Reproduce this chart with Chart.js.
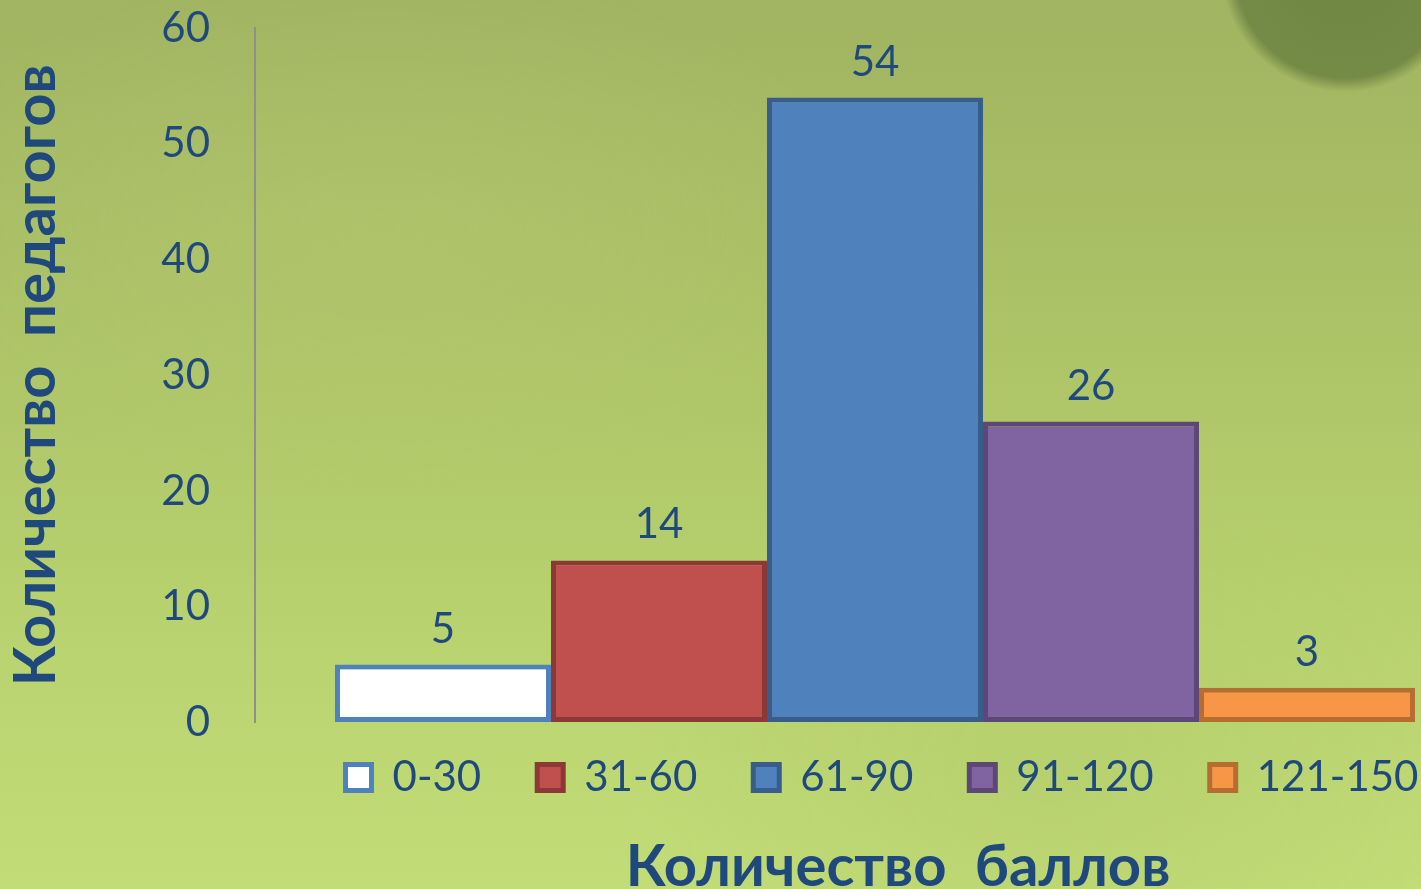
<!DOCTYPE html>
<html>
<head>
<meta charset="utf-8">
<script src="https://cdn.jsdelivr.net/npm/chart.js@4/dist/chart.umd.min.js"></script>
<style>
    html, body {
        margin: 0;
        padding: 0;
        width: 1421px;
        height: 889px;
        overflow: hidden;
    }
    body {
        background:
            radial-gradient(circle at 1345px -32px, #6f8744 0px, #748a47 110px, rgba(116,138,71,0) 124px),
            radial-gradient(ellipse 500px 260px at 380px 230px, rgba(190,205,120,0.3), rgba(190,205,120,0)),
            radial-gradient(ellipse 420px 300px at 1050px 780px, rgba(170,195,100,0.35), rgba(170,195,100,0)),
            linear-gradient(180deg, #a1b461 0%, #abc266 35%, #b8d26f 70%, #c2dd77 100%);
    }
    #wrap {
        position: absolute;
        left: 0;
        top: 0;
        width: 1760px;
        height: 922px;
    }
</style>
</head>
<body>
<div id="wrap"><canvas id="barChart"></canvas></div>
<script>
// Chart data
const rangeLabels = ['0-30', '31-60', '61-90', '91-120', '121-150'];
const teacherCounts = [5, 14, 54, 26, 3];
const fillColors = ['#ffffff', '#c0504d', '#4f81bd', '#8064a2', '#f79646'];
const edgeColors = ['#4f81bd', '#8c3836', '#385d8a', '#5c4776', '#b66d31'];
const yMin = 0;
const yMax = 60;
const yStep = 10;
const yTitle = 'Количество  педагогов';
const xTitle = 'Количество  баллов';

const textColor = '#1f497d';
const fontName = 'Lato';

// values over the bars
const valueLabels = {
    id: 'valueLabels',
    afterDatasetsDraw(chart) {
        const ctx = chart.ctx;
        ctx.save();
        ctx.font = '42px ' + fontName;
        ctx.fillStyle = textColor;
        ctx.textAlign = 'center';
        ctx.textBaseline = 'alphabetic';
        chart.data.datasets.forEach((ds, i) => {
            const bar = chart.getDatasetMeta(i).data[0];
            ctx.fillText(String(ds.data[0]), bar.x, bar.y - 22);
        });
        ctx.restore();
    }
};

// nudge legend and bottom title to where the original slide has them
const nudgeBoxes = {
    id: 'nudgeBoxes',
    afterLayout(chart) {
        const lg = chart.legend;
        lg.top -= 22; lg.bottom -= 22;
        lg.left += 7; lg.right += 7;
        const tb = chart.titleBlock;
        tb.left += 23; tb.right += 23;
    }
};

const datasets = rangeLabels.map((name, i) => ({
    label: name,
    data: [teacherCounts[i]],
    backgroundColor: fillColors[i],
    borderColor: edgeColors[i],
    borderWidth: 5,
    borderSkipped: false
}));

const ctx = document.getElementById('barChart').getContext('2d');
new Chart(ctx, {
    type: 'bar',
    data: { labels: [''], datasets: datasets },
    plugins: [valueLabels, nudgeBoxes],
    options: {
        responsive: true,
        maintainAspectRatio: false,
        animation: false,
        categoryPercentage: 0.871,
        barPercentage: 1,
        layout: { padding: { left: 0, right: 265, top: 0, bottom: 0 } },
        scales: {
            x: { display: false },
            y: {
                min: yMin,
                max: yMax,
                ticks: {
                    stepSize: yStep,
                    padding: 3,
                    color: textColor,
                    font: { family: fontName, size: 42 }
                },
                grid: {
                    display: true,
                    drawOnChartArea: false,
                    drawTicks: true,
                    tickLength: 42,
                    tickColor: 'rgba(0,0,0,0)'
                },
                border: { display: true, color: '#8f8f8f', width: 2 },
                title: {
                    display: true,
                    text: yTitle,
                    color: textColor,
                    padding: { top: 1, bottom: 0 },
                    font: { family: fontName, size: 58, weight: 'bold' }
                },
                afterFit(scale) {
                    scale.width = 255;
                }
            }
        },
        plugins: {
            tooltip: { enabled: false },
            legend: {
                position: 'bottom',
                fullSize: false,
                labels: {
                    color: textColor,
                    boxWidth: 26,
                    boxHeight: 26,
                    padding: 56,
                    font: { family: fontName, size: 42 }
                }
            },
            title: {
                display: true,
                position: 'bottom',
                fullSize: false,
                text: xTitle,
                color: textColor,
                padding: { top: 2, bottom: 20 },
                font: { family: fontName, size: 58, weight: 'bold' }
            }
        }
    }
});
</script>
</body>
</html>
